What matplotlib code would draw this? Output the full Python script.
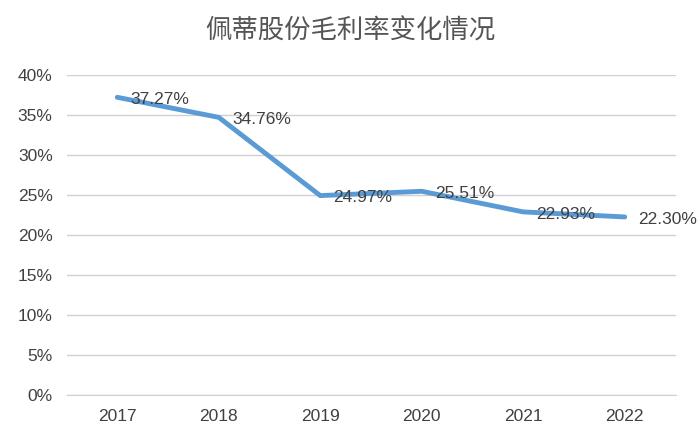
import matplotlib
matplotlib.use("Agg")
import matplotlib.pyplot as plt
from matplotlib.ticker import FuncFormatter

plt.rcParams['font.family'] = ['Liberation Sans', 'Noto Sans CJK SC', 'DejaVu Sans']

years = ["2017", "2018", "2019", "2020", "2021", "2022"]
margin = [37.27, 34.76, 24.97, 25.51, 22.93, 22.30]
labels = ["37.27%", "34.76%", "24.97%", "25.51%", "22.93%", "22.30%"]

fig = plt.figure(figsize=(7, 4.44), dpi=100)
ax = fig.add_axes([0.095, 0.11, 0.87, 0.72])
x = list(range(len(years)))
ax.plot(x, margin, color="#5b9bd5", lw=3.5, solid_capstyle="round")
for xi, v, t in zip(x, margin, labels):
    ax.text(xi + 0.13, v - 0.3, t, fontsize=12.5, color="#404040", va="center", ha="left")
ax.set_xlim(-0.5, 5.5)
ax.set_ylim(0, 40)
ax.set_yticks(range(0, 41, 5))
ax.yaxis.set_major_formatter(FuncFormatter(lambda v, p: f"{int(v)}%"))
ax.set_xticks(x)
ax.set_xticklabels(years)
ax.tick_params(axis="both", length=0, labelsize=12.5, labelcolor="#404040", pad=10)
ax.grid(axis="y", color="#d0d0d0", lw=1)
ax.set_axisbelow(True)
for s in ["top", "right", "left"]:
    ax.spines[s].set_visible(False)
ax.spines["bottom"].set_color("#d0d0d0")
fig.text(0.5, 0.93, "佩蒂股份毛利率变化情况", ha="center", va="center", fontsize=19,
         color="#555555", family=['Noto Sans CJK SC', 'DejaVu Sans'])
fig.savefig("out.png")
